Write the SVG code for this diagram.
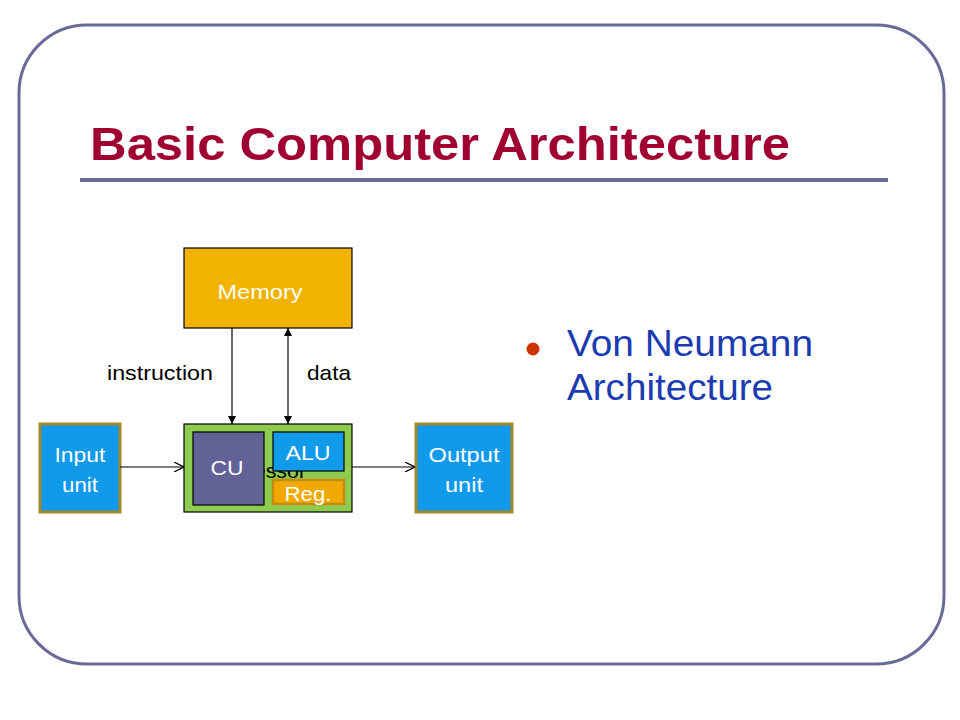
<svg xmlns="http://www.w3.org/2000/svg" width="960" height="720" viewBox="0 0 960 720">
<defs>
<style>
.t{font-family:"Liberation Sans",Arial,sans-serif}
.box{stroke:#000;stroke-width:1.2}
.unit{fill:#1199ea;stroke:#a3862f;stroke-width:3}
.w{fill:#fff;font-size:21px;text-anchor:middle}
.conn{stroke:#000;stroke-width:1.2;fill:none}
</style>
<marker id="tri" viewBox="0 0 10 10" refX="10" refY="5" markerWidth="8" markerHeight="8" orient="auto-start-reverse" markerUnits="userSpaceOnUse"><path d="M0,0 L10,5 L0,10 z" fill="#000"/></marker>
<marker id="open" viewBox="0 0 10 10" refX="10" refY="5" markerWidth="10" markerHeight="10" orient="auto" markerUnits="userSpaceOnUse"><path d="M0,0 L10,5 L0,10" fill="none" stroke="#000" stroke-width="1.2"/></marker>
</defs>
<rect width="960" height="720" fill="#fff"/>
<rect x="19" y="25" width="925" height="639" rx="68" ry="68" fill="#fff" stroke="#6a6a98" stroke-width="3"/>
<text class="t" x="90" y="160" font-size="46" font-weight="bold" fill="#a00030" textLength="700" lengthAdjust="spacingAndGlyphs">Basic Computer Architecture</text>
<line x1="80" y1="180" x2="888" y2="180" stroke="#6a6a98" stroke-width="4"/>
<g id="memory"><rect class="box" x="184" y="248" width="168" height="80" fill="#f2b300"/><text class="t w" x="260" y="299" fill="#fff7c0" textLength="85" lengthAdjust="spacingAndGlyphs">Memory</text></g>
<g id="processor"><rect class="box" x="184" y="424" width="168" height="88" fill="#8ecb4f"/><text class="t" x="210" y="478" font-size="21" fill="#000" textLength="96" lengthAdjust="spacingAndGlyphs">Processor</text></g>
<g id="cu"><rect class="box" x="193" y="432" width="71" height="73" fill="#626297"/><text class="t w" x="227" y="475" textLength="33" lengthAdjust="spacingAndGlyphs">CU</text></g>
<g id="alu"><rect class="box" x="273" y="432" width="71" height="39" fill="#1199ea"/><text class="t w" x="308" y="460" textLength="45" lengthAdjust="spacingAndGlyphs">ALU</text></g>
<g id="reg"><rect x="273" y="480" width="71" height="24" fill="#f0a900" stroke="#c58a10" stroke-width="2.5"/><text class="t w" x="308" y="501" fill="#fff7c0" textLength="47" lengthAdjust="spacingAndGlyphs">Reg.</text></g>
<g id="input"><rect class="unit" x="40" y="424" width="80" height="88"/><text class="t w" x="80" y="462" textLength="51" lengthAdjust="spacingAndGlyphs">Input</text><text class="t w" x="80" y="492" textLength="36" lengthAdjust="spacingAndGlyphs">unit</text></g>
<g id="output"><rect class="unit" x="416" y="424" width="96" height="88"/><text class="t w" x="464" y="462" textLength="71" lengthAdjust="spacingAndGlyphs">Output</text><text class="t w" x="464" y="492" textLength="38" lengthAdjust="spacingAndGlyphs">unit</text></g>
<g id="connectors">
<line class="conn" x1="232" y1="328" x2="232" y2="424" marker-end="url(#tri)"/>
<line class="conn" x1="288" y1="328" x2="288" y2="424" marker-start="url(#tri)" marker-end="url(#tri)"/>
<line class="conn" x1="120" y1="467" x2="184" y2="467" marker-end="url(#open)"/>
<line class="conn" x1="352" y1="467" x2="415" y2="467" marker-end="url(#open)"/>
<text class="t" x="107" y="380" font-size="21" fill="#000" textLength="106" lengthAdjust="spacingAndGlyphs">instruction</text>
<text class="t" x="307" y="380" font-size="21" fill="#000" textLength="44" lengthAdjust="spacingAndGlyphs">data</text>
</g>
<circle cx="533" cy="349" r="6.5" fill="#cc3300"/>
<text class="t" x="567" y="356" font-size="36" fill="#1a3cb0" textLength="246" lengthAdjust="spacingAndGlyphs">Von Neumann</text>
<text class="t" x="567" y="400" font-size="36" fill="#1a3cb0" textLength="206" lengthAdjust="spacingAndGlyphs">Architecture</text>
</svg>
